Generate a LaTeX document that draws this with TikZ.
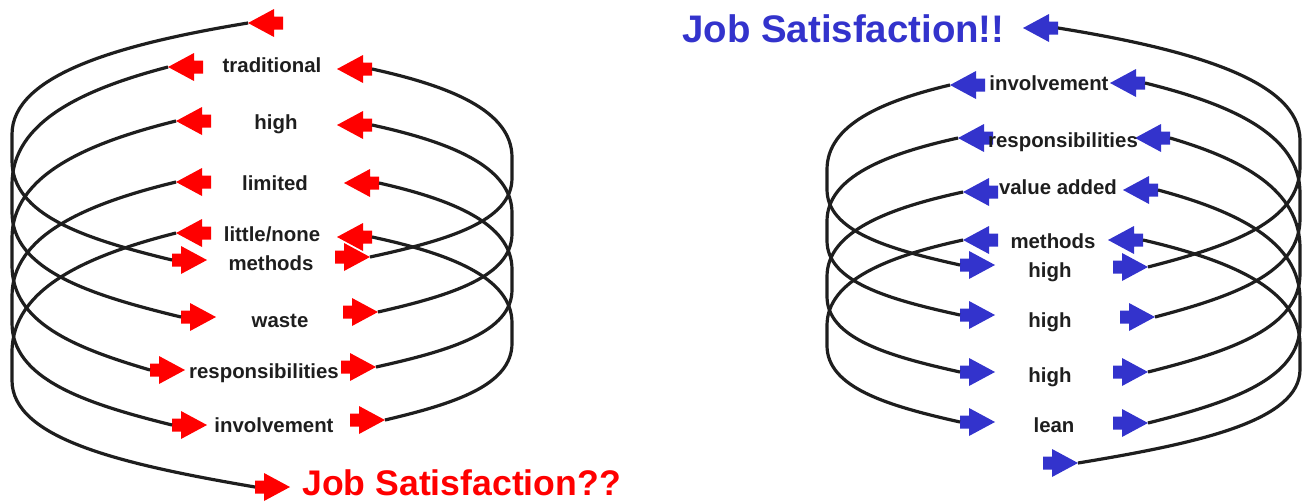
\documentclass[tikz,border=0pt]{standalone}
\usepackage{fontspec}
\setmainfont{Liberation Sans}
\usetikzlibrary{calc}
\definecolor{jred}{RGB}{255,0,0}
\definecolor{jblue}{RGB}{51,51,204}
\definecolor{ink}{RGB}{30,30,30}
\tikzset{
  farrow/.pic={\fill[#1] (0,0) -- (-26,14) -- (-26,6.5) -- (-35,6.5) -- (-35,-6.5) -- (-26,-6.5) -- (-26,-14) -- cycle;
    \coordinate (-tip) at (0,0); \coordinate (-tail) at (-35,0);},
  lbl/.style={anchor=base, inner sep=0pt, font=\bfseries\fontsize{10.2}{12}\selectfont, text=ink},
  title/.style={anchor=base west, inner sep=0pt, font=\bfseries\fontsize{#1}{22}\selectfont},
  coilline/.style={line width=1.6pt, draw=ink},
}
\newcommand\coilloop[3]{\draw[coilline] let \p1=(#1), \p2=(#2), \p3=(#3) in (\p1) .. controls ({\x1+0.55*(\x3-\x1)},{\y1+0.09*(\y2-\y1)}) and (\x3,{\y1+0.22*(\y2-\y1)}) .. (\x3,{\y1+0.47*(\y2-\y1)}) -- (\x3,{\y1+0.58*(\y2-\y1)}) .. controls (\x3,{\y1+0.81*(\y2-\y1)}) and ({\x2+0.55*(\x3-\x2)},{\y2-0.09*(\y2-\y1)}) .. (\p2);}
\begin{document}
\begin{tikzpicture}[x=0.5pt,y=-0.5pt]
\useasboundingbox (0,0) rectangle (1311,503);
\coordinate (LL) at (12,250);
\coordinate (LR) at (512,250);
\coordinate (RL) at (827,250);
\coordinate (RR) at (1300,250);
% ---------- left diagram arrows ----------
\pic[xscale=-1] (a0) at (248,23) {farrow=jred};
\pic[xscale=-1] (a1L) at (168,67) {farrow=jred};
\pic[xscale=-1] (a2L) at (176,121) {farrow=jred};
\pic[xscale=-1] (a3L) at (176,182) {farrow=jred};
\pic[xscale=-1] (a4L) at (176,233) {farrow=jred};
\pic[xscale=-1] (a1R) at (337,69) {farrow=jred};
\pic[xscale=-1] (a2R) at (337,125) {farrow=jred};
\pic[xscale=-1] (a3R) at (344,183) {farrow=jred};
\pic[xscale=-1] (a4R) at (337,237) {farrow=jred};
\pic (b1L) at (207,260) {farrow=jred};
\pic (b2L) at (216,317) {farrow=jred};
\pic (b3L) at (185,370) {farrow=jred};
\pic (b4L) at (207,425) {farrow=jred};
\pic (b5) at (290,487) {farrow=jred};
\pic (b1R) at (370,257) {farrow=jred};
\pic (b2R) at (378,312) {farrow=jred};
\pic (b3R) at (376,367) {farrow=jred};
\pic (b4R) at (385,420) {farrow=jred};
% ---------- right diagram arrows ----------
\pic[xscale=-1] (c0) at (1023,28) {farrow=jblue};
\pic[xscale=-1] (c1L) at (950,85) {farrow=jblue};
\pic[xscale=-1] (c2L) at (958,138) {farrow=jblue};
\pic[xscale=-1] (c3L) at (963,192) {farrow=jblue};
\pic[xscale=-1] (c4L) at (963,240) {farrow=jblue};
\pic[xscale=-1] (c1R) at (1110,83) {farrow=jblue};
\pic[xscale=-1] (c2R) at (1135,138) {farrow=jblue};
\pic[xscale=-1] (c3R) at (1123,190) {farrow=jblue};
\pic[xscale=-1] (c4R) at (1108,240) {farrow=jblue};
\pic (d1L) at (995,265) {farrow=jblue};
\pic (d2L) at (995,315) {farrow=jblue};
\pic (d3L) at (995,372) {farrow=jblue};
\pic (d4L) at (995,422) {farrow=jblue};
\pic (d1R) at (1148,267) {farrow=jblue};
\pic (d2R) at (1155,317) {farrow=jblue};
\pic (d3R) at (1148,372) {farrow=jblue};
\pic (d4R) at (1148,423) {farrow=jblue};
\pic (d5) at (1078,463) {farrow=jblue};
% ---------- coils ----------
\coilloop{a0-tip}{b1L-tail}{LL}
\coilloop{a1L-tip}{b2L-tail}{LL}
\coilloop{a2L-tip}{b3L-tail}{LL}
\coilloop{a3L-tip}{b4L-tail}{LL}
\coilloop{a4L-tip}{b5-tail}{LL}
\coilloop{a1R-tail}{b1R-tip}{LR}
\coilloop{a2R-tail}{b2R-tip}{LR}
\coilloop{a3R-tail}{b3R-tip}{LR}
\coilloop{a4R-tail}{b4R-tip}{LR}
\coilloop{c0-tail}{d1R-tip}{RR}
\coilloop{c1R-tail}{d2R-tip}{RR}
\coilloop{c2R-tail}{d3R-tip}{RR}
\coilloop{c3R-tail}{d4R-tip}{RR}
\coilloop{c4R-tail}{d5-tip}{RR}
\coilloop{c1L-tip}{d1L-tail}{RL}
\coilloop{c2L-tip}{d2L-tail}{RL}
\coilloop{c3L-tip}{d3L-tail}{RL}
\coilloop{c4L-tip}{d4L-tail}{RL}
% ---------- labels ----------
\node[lbl] (l1) at (272,72) {traditional};
\node[lbl] (l2) at (276,129) {high};
\node[lbl] (l3) at (275,190) {limited};
\node[lbl] (l4) at (272,241) {little/none};
\node[lbl] (l5) at (271,270) {methods};
\node[lbl] (l6) at (280,327) {waste};
\node[lbl] (l7) at (264,378) {responsibilities};
\node[lbl] (l8) at (274,432) {involvement};
\node[title=17.8, text=jred] (jsbad) at (302,495) {Job Satisfaction??};
\node[lbl] (r1) at (1049,90) {involvement};
\node[lbl] (r2) at (1063,147) {responsibilities};
\node[lbl] (r3) at (1058,194) {value added};
\node[lbl] (r4) at (1053,248) {methods};
\node[lbl] (r5) at (1050,277) {high};
\node[lbl] (r6) at (1050,327) {high};
\node[lbl] (r7) at (1050,382) {high};
\node[lbl] (r8) at (1054,432) {lean};
\node[title=19.2, text=jblue] (jsgood) at (682,42) {Job Satisfaction!!};
\end{tikzpicture}
\end{document}
